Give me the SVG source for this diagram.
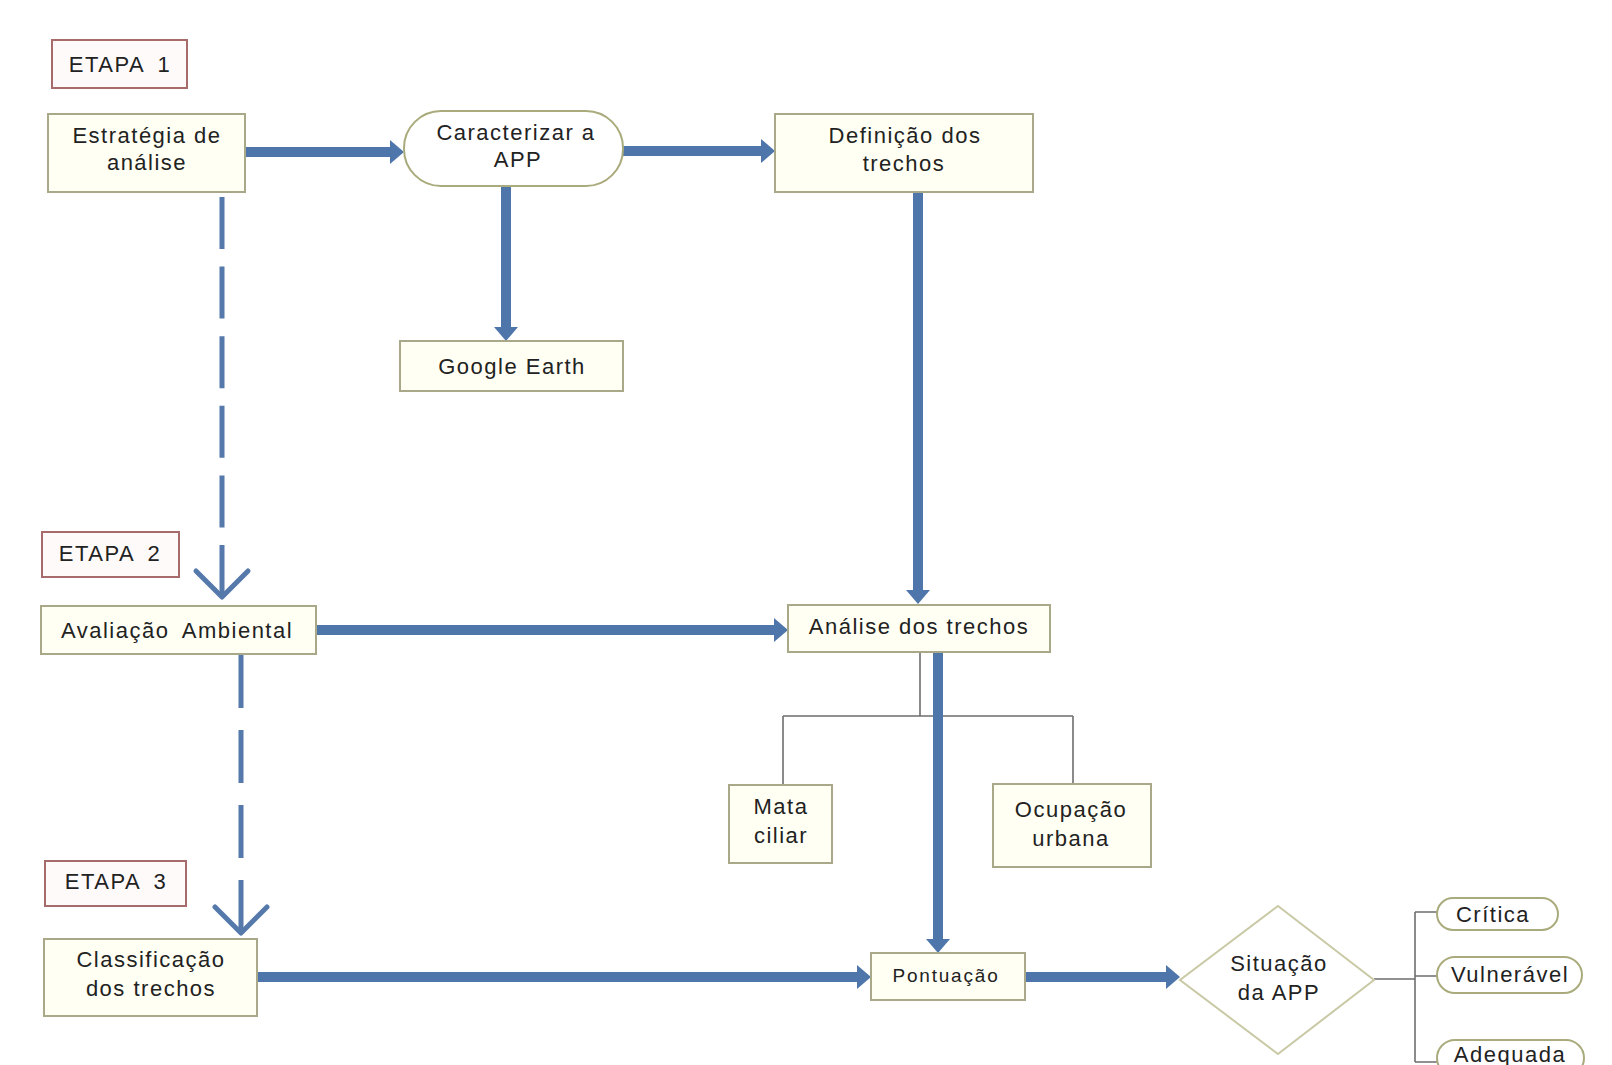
<svg xmlns="http://www.w3.org/2000/svg" width="1612" height="1065" viewBox="0 0 1612 1065">
  <style>
    .box { fill: #fffff3; stroke: #a9a98a; stroke-width: 2; }
    .etapa { fill: #fffafa; stroke: #a86b6b; stroke-width: 2; }
    .pill { fill: #ffffff; stroke: #aaab7c; stroke-width: 2; }
    .dia { fill: #ffffff; stroke: #c9c9a6; stroke-width: 2; }
    .t { font-family: "Liberation Sans", Arial, sans-serif; font-size: 22px; letter-spacing: 1.5px; fill: #222222; text-anchor: middle; }
    .et { word-spacing: 6px; }
    .small { font-size: 19px; letter-spacing: 1.8px; }
    .thick { fill: none; stroke: #4f76aa; stroke-width: 10; marker-end: url(#ah); }
    .dash { fill: none; stroke: #5479aa; stroke-width: 5; marker-end: url(#vh); }
    .thin { fill: none; stroke: #6e6e6e; stroke-width: 1.6; }
  </style>
  <defs>
    <marker id="ah" markerUnits="userSpaceOnUse" markerWidth="16" markerHeight="28" viewBox="0 -14 16 28" refX="0" refY="0" orient="auto">
      <path d="M0,-12 L14,0 L0,12 z" fill="#4f76aa"/>
    </marker>
    <marker id="vh" markerUnits="userSpaceOnUse" markerWidth="40" markerHeight="64" viewBox="-34 -32 40 64" refX="0" refY="0" orient="auto">
      <path d="M-26,-26 L0,0 L-26,26" fill="none" stroke="#5479aa" stroke-width="5" stroke-linecap="round" stroke-linejoin="round"/>
    </marker>
  </defs>
  <rect width="1612" height="1065" fill="#ffffff"/>

  <g id="connectors">
    <path class="thick" d="M245,152 H390"/>
    <path class="thick" d="M623,151 H761"/>
    <path class="thick" d="M506,186 V327"/>
    <path class="thick" d="M918,192 V590"/>
    <path class="thick" d="M316,630 H774"/>
    <path class="thin" d="M920,652 V716 M783,716 H1073 M783,716 V785 M1073,716 V784"/>
    <path class="thick" d="M938,652 V939"/>
    <path class="thick" d="M257,977 H857"/>
    <path class="thick" d="M1025,977 H1166"/>
    <path class="dash" d="M222,197 V597" stroke-dasharray="52 17.6"/>
    <path class="dash" d="M241,655 V933" stroke-dasharray="53 22"/>
    <path class="thin" d="M1374,979 H1415 M1415,912 V1062 M1415,912 H1437 M1415,976 H1437 M1415,1062 H1437"/>
  </g>

  <g id="etapa1"><rect class="etapa" x="52" y="40" width="135" height="48"/><text class="t et" x="120" y="72">ETAPA 1</text></g>
  <g id="estrategia"><rect class="box" x="48" y="114" width="197" height="78"/><text class="t" x="147" y="143">Estratégia de</text><text class="t" x="147" y="170">análise</text></g>
  <g id="caracterizar"><rect class="pill" x="404" y="111" width="219" height="75" rx="37" ry="37"/><text class="t" x="516" y="140">Caracterizar a</text><text class="t" x="518" y="167">APP</text></g>
  <g id="definicao"><rect class="box" x="775" y="114" width="258" height="78"/><text class="t" x="905" y="143">Definição dos</text><text class="t" x="904" y="171">trechos</text></g>
  <g id="google"><rect class="box" x="400" y="341" width="223" height="50"/><text class="t" x="512" y="374">Google Earth</text></g>

  <g id="etapa2"><rect class="etapa" x="42" y="532" width="137" height="45"/><text class="t et" x="110" y="561">ETAPA 2</text></g>
  <g id="avaliacao"><rect class="box" x="41" y="606" width="275" height="48"/><text class="t et" x="177" y="638">Avaliação Ambiental</text></g>
  <g id="analise"><rect class="box" x="788" y="605" width="262" height="47"/><text class="t" x="919" y="634">Análise dos trechos</text></g>
  <g id="mata"><rect class="box" x="729" y="785" width="103" height="78"/><text class="t" x="781" y="814">Mata</text><text class="t" x="781" y="843">ciliar</text></g>
  <g id="ocupacao"><rect class="box" x="993" y="784" width="158" height="83"/><text class="t" x="1071" y="817">Ocupação</text><text class="t" x="1071" y="846">urbana</text></g>

  <g id="etapa3"><rect class="etapa" x="45" y="861" width="141" height="45"/><text class="t et" x="116" y="889">ETAPA 3</text></g>
  <g id="classificacao"><rect class="box" x="44" y="939" width="213" height="77"/><text class="t" x="151" y="967">Classificação</text><text class="t" x="151" y="996">dos trechos</text></g>
  <g id="pontuacao"><rect class="box" x="871" y="953" width="154" height="47"/><text class="t small" x="946" y="982">Pontuação</text></g>
  <g id="situacao"><polygon class="dia" points="1278,906 1374,980 1278,1054 1180,980"/><text class="t" x="1279" y="971">Situação</text><text class="t" x="1279" y="1000">da APP</text></g>
  <g id="critica"><rect class="pill" x="1437" y="898" width="121" height="32" rx="16" ry="16"/><text class="t" x="1493" y="922">Crítica</text></g>
  <g id="vulneravel"><rect class="pill" x="1437" y="957" width="145" height="36" rx="18" ry="18"/><text class="t" x="1510" y="982">Vulnerável</text></g>
  <g id="adequada"><rect class="pill" x="1437" y="1040" width="147" height="36" rx="18" ry="18"/><text class="t" x="1510" y="1062">Adequada</text></g>
</svg>
